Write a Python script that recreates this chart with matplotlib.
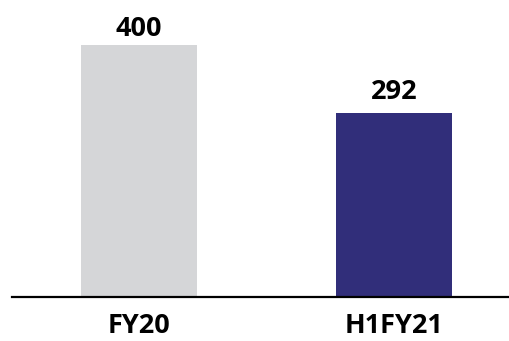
import matplotlib as mpl
mpl.use('Agg')
import matplotlib.pyplot as plt

categories = ['FY20', 'H1FY21']
values = [400, 292]
colors = ['#D5D6D8', '#312E7A']
label_offsets = [6.5, 10]  # points above each bar

plt.rcParams['font.family'] = ['Open Sans', 'DejaVu Sans']
plt.rcParams['font.weight'] = 'bold'

fig = plt.figure(figsize=(5.1, 3.41), dpi=100)
ax = fig.add_axes([12 / 510, 44.3 / 341, 498 / 510, 296.7 / 341])

x = range(len(categories))
bars = ax.bar(x, values, width=0.455, color=colors)

for b, v, off in zip(bars, values, label_offsets):
    ax.annotate(str(v), (b.get_x() + b.get_width() / 2, v),
                xytext=(0, off), textcoords='offset points',
                ha='center', va='baseline', fontsize=19.5, fontweight='bold')

ax.set_xlim(-0.498, 1.455)
ax.set_ylim(0, 471.5)
ax.set_xticks(list(x))
ax.set_xticklabels(categories, fontsize=19.5, fontweight='bold')
ax.tick_params(axis='x', length=0, pad=12)
ax.set_yticks([])

for s in ['top', 'right', 'left']:
    ax.spines[s].set_visible(False)
ax.spines['bottom'].set_linewidth(1.6)
ax.spines['bottom'].set_color('black')

plt.savefig('out.png', dpi=100)
